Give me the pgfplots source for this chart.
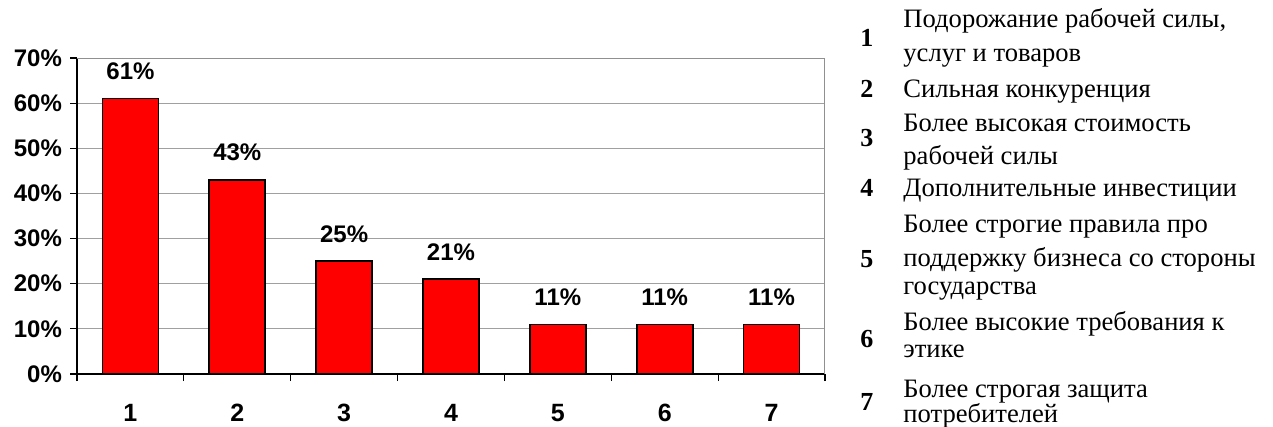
\documentclass[border=0pt]{standalone}
\usepackage{fontspec}
\setmainfont{Liberation Serif}
\setsansfont{Liberation Sans}
\usepackage{pgfplots}
\pgfplotsset{compat=1.18}

\definecolor{gridgray}{HTML}{A0A0A0}
\definecolor{framegray}{HTML}{909090}

\begin{document}
\begin{tikzpicture}
% page = 1273 x 427 px, 1 px = 0.5pt, origin at top left
\useasboundingbox (0,0) rectangle (636.5pt,-213.5pt);

\begin{axis}[
    at={(38.5pt,-187pt)}, anchor=south west,
    scale only axis,
    width=374pt, height=158pt,
    xmin=0.5, xmax=7.5,
    ymin=0, ymax=70,
    ybar, bar width=28pt,
    axis x line*=bottom, axis y line*=left,
    axis line style={-, black, line width=0.6pt},
    tick align=outside,
    xtick={1,...,7},
    minor xtick={0.5,1.5,...,7.5},
    major x tick style={draw=none},
    minor x tick style={black, line width=0.6pt},
    minor tick length=3.5pt,
    ytick={0,10,...,70},
    y tick style={black, line width=0.6pt},
    major tick length=3.5pt,
    ymajorgrids,
    major grid style={gridgray, line width=0.5pt},
    /pgf/number format/assume math mode=true,
    tick label style={font=\sffamily\bfseries\fontsize{12.5}{14}\selectfont},
    xticklabel style={anchor=base, yshift=-20pt},
    yticklabel={\pgfmathprintnumber{\tick}\%},
    yticklabel style={font=\sffamily\bfseries\fontsize{12}{14}\selectfont, xshift=-0.5pt},
    nodes near coords={\pgfmathprintnumber{\pgfplotspointmeta}\%},
    nodes near coords style={anchor=base, yshift=9.5pt,
        font=\sffamily\bfseries\fontsize{12}{14}\selectfont},
]
\addplot[fill=red, draw=black, line width=0.8pt] coordinates {
    (1,61) (2,43) (3,25) (4,21) (5,11) (6,11) (7,11)
};
\draw[framegray, line width=0.6pt] (rel axis cs:0,1) -- (rel axis cs:1,1) -- (rel axis cs:1,0);
\end{axis}

% legend of categories
\begin{scope}[every node/.style={anchor=base west, inner sep=0pt,
        font=\fontsize{13.3}{15}\selectfont}]
\node[font=\bfseries\fontsize{13}{15}\selectfont] at (430pt,-23.5pt) {1};
\node at (451.5pt,-14pt) {Подорожание рабочей силы,};
\node at (451.5pt,-31pt) {услуг и товаров};
\node[font=\bfseries\fontsize{13}{15}\selectfont] at (430pt,-49pt) {2};
\node at (451.5pt,-49pt) {Сильная конкуренция};
\node[font=\bfseries\fontsize{13}{15}\selectfont] at (430pt,-73.5pt) {3};
\node at (451.5pt,-66pt) {Более высокая стоимость};
\node at (451.5pt,-82.5pt) {рабочей силы};
\node[font=\bfseries\fontsize{13}{15}\selectfont] at (430pt,-98.5pt) {4};
\node at (451.5pt,-98.5pt) {Дополнительные инвестиции};
\node[font=\bfseries\fontsize{13}{15}\selectfont] at (430pt,-133.5pt) {5};
\node at (451.5pt,-116.5pt) {Более строгие правила про};
\node at (451.5pt,-133pt) {поддержку бизнеса со стороны};
\node at (451.5pt,-147pt) {государства};
\node[font=\bfseries\fontsize{13}{15}\selectfont] at (430pt,-173.5pt) {6};
\node at (451.5pt,-165pt) {Более высокие требования к};
\node at (451.5pt,-178.5pt) {этике};
\node[font=\bfseries\fontsize{13}{15}\selectfont] at (430pt,-205pt) {7};
\node at (451.5pt,-198.5pt) {Более строгая защита};
\node at (451.5pt,-211pt) {потребителей};
\end{scope}
\end{tikzpicture}
\end{document}
